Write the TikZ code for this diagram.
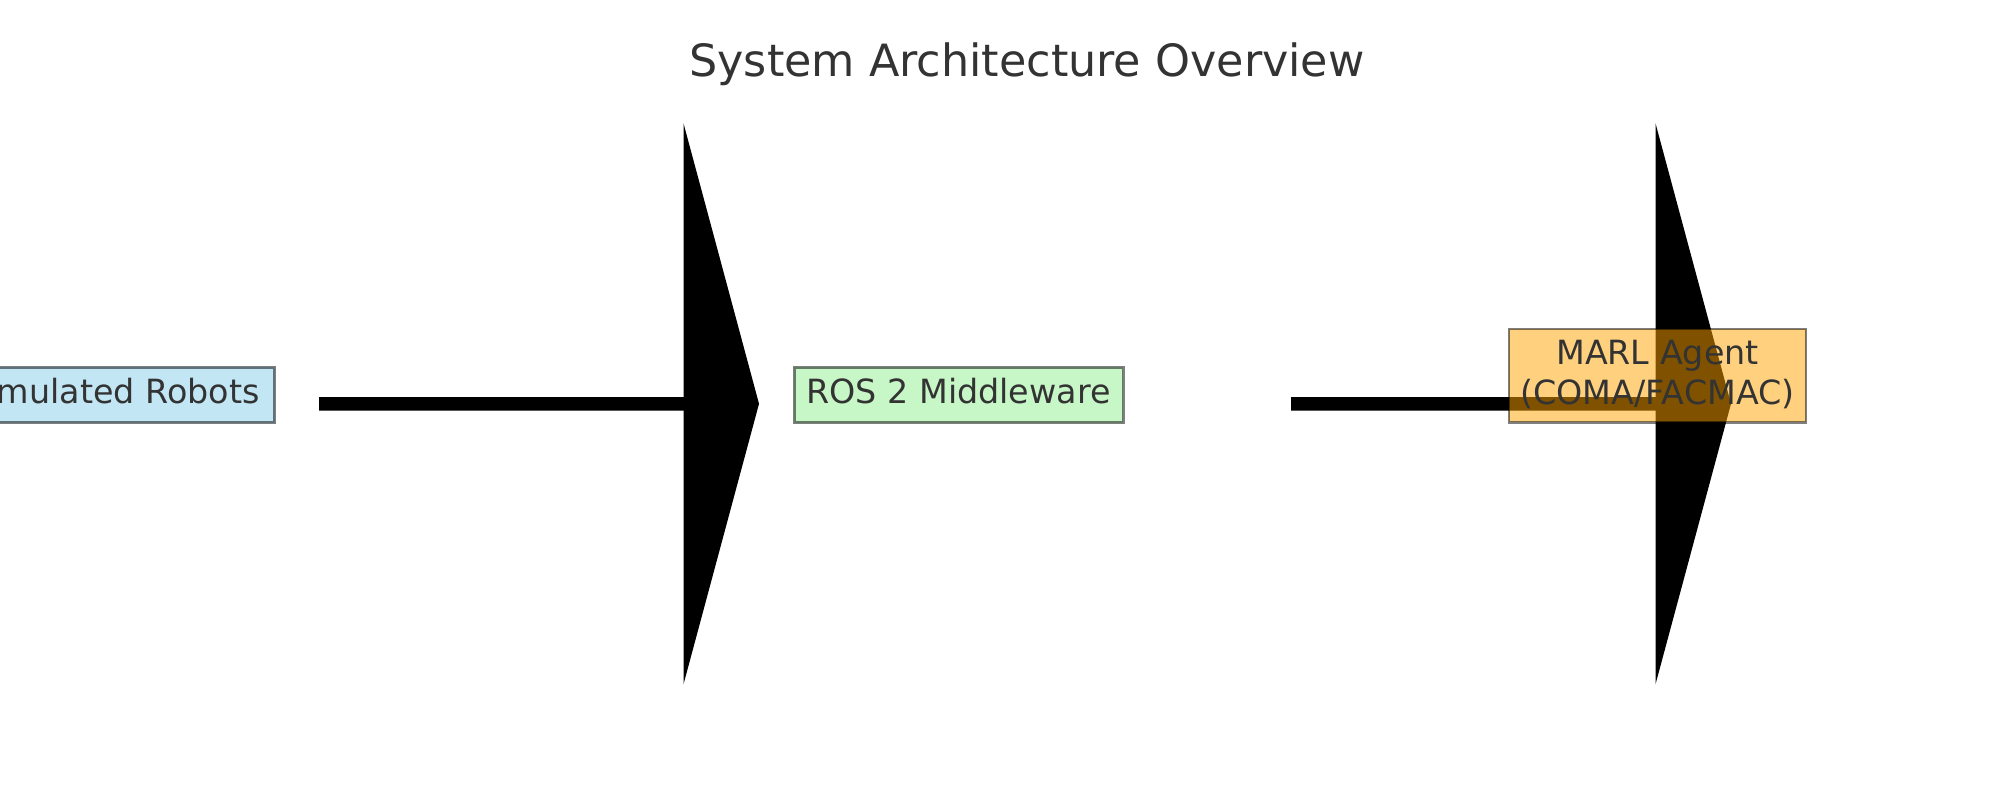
\documentclass[tikz,border=0pt]{standalone}
\usepackage{fontspec}
\setmainfont{DejaVu Sans}
\definecolor{txt}{HTML}{333333}
\definecolor{skyb}{HTML}{87CEEB}
\definecolor{lgreen}{HTML}{90EE90}
\definecolor{orng}{HTML}{FFA500}
\tikzset{
  box/.style={rectangle, draw=black, draw opacity=0.5, fill opacity=0.5, line width=1pt, inner sep=0pt},
  lbl/.style={anchor=base, inner sep=0pt, text=txt, font=\fontsize{12}{14.4}\selectfont},
  ttl/.style={anchor=base, inner sep=0pt, text=txt, font=\fontsize{16}{19.2}\selectfont},
  bigarrow/.style={fill=black}
}
\begin{document}
\begin{tikzpicture}[x=0.36pt, y=-0.36pt]
\useasboundingbox (0,0) rectangle (2000,800);
\fill[white] (0,0) rectangle (2000,800);

\node[ttl] (title) at (1027,77) {System Architecture Overview};

% arrows
\coordinate (a1s) at (319,403.8);
\coordinate (a1t) at (759,403.8);
\coordinate (a2s) at (1291,403.8);
\coordinate (a2t) at (1731,403.8);
\fill[bigarrow] (319,397.2) -- (683.5,397.2) -- (683.5,123.3) -- (a1t) -- (683.5,684.3) -- (683.5,410.6) -- (319,410.6) -- cycle;
\fill[bigarrow] (1291,397.2) -- (1655.5,397.2) -- (1655.5,123.3) -- (a2t) -- (1655.5,684.3) -- (1655.5,410.6) -- (1291,410.6) -- cycle;

% boxes
\node[box, fill=skyb, minimum width={323*0.36pt}, minimum height={55.4*0.36pt}] (sim) at (113,395) {};
\node[box, fill=lgreen, minimum width={329*0.36pt}, minimum height={55.4*0.36pt}] (ros) at (958.8,395) {};
\node[box, fill=orng, minimum width={297*0.36pt}, minimum height={93.3*0.36pt}] (marl) at (1657.5,375.7) {};

% labels
\node[lbl] (simt) at (113,403.3) {Simulated Robots};
\node[lbl] (rost) at (958.5,403.3) {ROS 2 Middleware};
\node[lbl] (marlt1) at (1657.5,364.3) {MARL Agent};
\node[lbl] (marlt2) at (1657.5,404.3) {(COMA/FACMAC)};
\end{tikzpicture}
\end{document}
